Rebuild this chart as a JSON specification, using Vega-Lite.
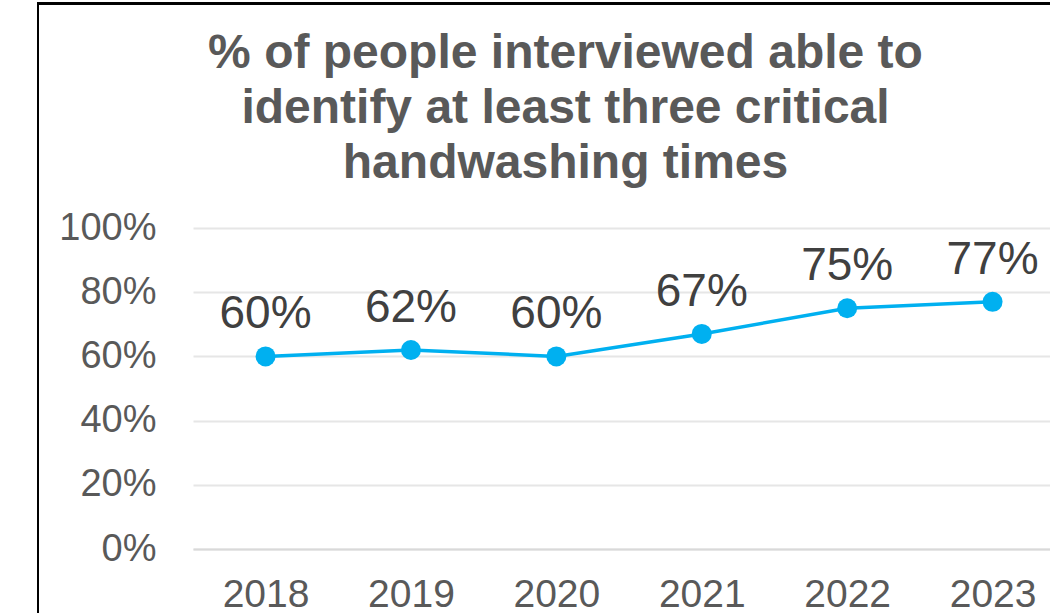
{
  "$schema": "https://vega.github.io/schema/vega-lite/v6.json",
  "width": 857,
  "height": 321,
  "autosize": {"type": "none"},
  "padding": {"left": 193, "top": 228, "right": 0, "bottom": 64},
  "background": "white",
  "config": {"view": {"stroke": null}, "font": "Liberation Sans"},
  "title": {
    "text": ["% of people interviewed able to", "identify at least three critical", "handwashing times"],
    "font": "Liberation Sans",
    "fontSize": 48,
    "fontWeight": "bold",
    "color": "#595959",
    "lineHeight": 55,
    "anchor": "middle",
    "frame": "group",
    "baseline": "top",
    "dx": -56,
    "offset": -185
  },
  "data": {
    "values": [
      {"year": 2018, "value": 0.60},
      {"year": 2019, "value": 0.62},
      {"year": 2020, "value": 0.60},
      {"year": 2021, "value": 0.67},
      {"year": 2022, "value": 0.75},
      {"year": 2023, "value": 0.77}
    ]
  },
  "encoding": {
    "x": {
      "field": "year",
      "type": "quantitative",
      "scale": {"domain": [2017.501, 2023.395], "nice": false, "zero": false},
      "axis": {
        "values": [2018, 2019, 2020, 2021, 2022, 2023],
        "format": "d",
        "title": null,
        "grid": false,
        "ticks": false,
        "domain": true,
        "domainColor": "#d9d9d9",
        "domainWidth": 2,
        "labelFont": "Liberation Sans",
        "labelFontSize": 39,
        "labelColor": "#595959",
        "labelPadding": 26,
        "labelFlush": false,
        "labelOverlap": false
      }
    },
    "y": {
      "field": "value",
      "type": "quantitative",
      "scale": {"domain": [0, 1], "nice": false},
      "axis": {
        "values": [0, 0.2, 0.4, 0.6, 0.8, 1],
        "format": ".0%",
        "title": null,
        "grid": true,
        "gridColor": "#e6e6e6",
        "gridWidth": 2,
        "ticks": false,
        "domain": false,
        "labelFont": "Liberation Sans",
        "labelFontSize": 38,
        "labelColor": "#595959",
        "labelPadding": 37,
        "labelFlush": false,
        "labelOverlap": false
      }
    }
  },
  "layer": [
    {
      "mark": {"type": "rect", "fill": null, "fillOpacity": 0, "stroke": "#000000", "strokeWidth": 2, "clip": false},
      "encoding": {
        "x": {"datum": 2016.435, "type": "quantitative"},
        "x2": {"datum": 2030},
        "y": {"datum": 1.699, "type": "quantitative"},
        "y2": {"datum": -0.5}
      }
    },
    {
      "mark": {"type": "line", "color": "#00B0F0", "strokeWidth": 3.5}
    },
    {
      "mark": {"type": "point", "filled": true, "color": "#00B0F0", "size": 400, "opacity": 1}
    },
    {
      "mark": {"type": "text", "dy": -28, "baseline": "alphabetic", "fontSize": 46, "color": "#404040", "font": "Liberation Sans"},
      "encoding": {"text": {"field": "value", "type": "quantitative", "format": ".0%"}}
    }
  ]
}
